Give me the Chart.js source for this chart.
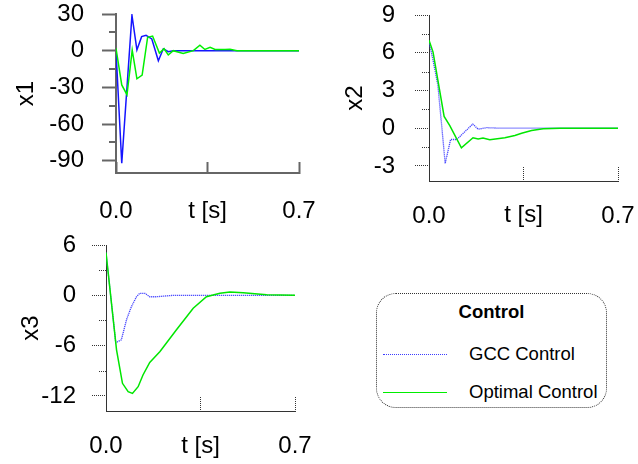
<!DOCTYPE html>
<html>
<head>
<meta charset="utf-8">
<script src="https://cdn.jsdelivr.net/npm/chart.js@4.4.1/dist/chart.umd.min.js"></script>
<style>
body{margin:0;background:#fff;width:638px;height:464px;position:relative;overflow:hidden;font-family:"Liberation Sans",Arial,sans-serif}
canvas{position:absolute}
#c1{left:0;top:0}
#c2{left:320px;top:0}
#c3{left:0;top:230px}
.legend{position:absolute;left:376px;top:293px;width:229px;height:113px;border:1px dotted #333;border-radius:20px;color:#000;font-size:18.5px}
.legend .ttl{position:absolute;top:7px;left:0;width:100%;text-align:center;font-weight:bold;line-height:22px}
.legend .row{position:absolute;left:0;width:100%;height:22px;line-height:22px}
.legend .smp{position:absolute;left:6px;width:64px;top:11px}
.legend .txt{position:absolute;left:92px;top:0;white-space:nowrap}
</style>
</head>
<body>
<canvas id="c1" width="320" height="230"></canvas>
<canvas id="c2" width="318" height="230"></canvas>
<canvas id="c3" width="320" height="234"></canvas>
<div class="legend">
  <div class="ttl">Control</div>
  <div class="row" style="top:49px"><div class="smp" style="border-top:1px dotted #3c3cff"></div><div class="txt">GCC Control</div></div>
  <div class="row" style="top:87px"><div class="smp" style="border-top:1.5px solid #00ee00"></div><div class="txt">Optimal Control</div></div>
</div>
<script>
// shared x axis
const xTickVals = [0, 0.35, 0.7];
const xTickLabels = ['0.0', '', '0.7'];
const seriesNames = ['GCC Control', 'Optimal Control'];

// x1
const x1GccT = [0, 0.022, 0.061, 0.080, 0.098, 0.115, 0.137, 0.162, 0.181, 0.200, 0.219, 0.70];
const x1GccV = [0, -92, 29, 0.6, 11.5, 12.6, 9.6, -8.2, 1.6, -0.8, 0, 0];
const x1OptT = [0, 0.022, 0.042, 0.062, 0.080, 0.100, 0.121, 0.140, 0.166, 0.184, 0.200, 0.219, 0.257, 0.296, 0.321, 0.340, 0.360, 0.379, 0.417, 0.436, 0.463, 0.70];
const x1OptV = [2, -28, -36, 0.5, -23, -20, 11, 12, -2, 1.6, -3.5, 0, -2.2, 0, 4.5, 1, 2.7, 1, 1, 1.1, 0, 0];
const x1Ticks = [-90, -60, -30, 0, 30];
const x1Minor = [-75, -45, -15, 15];

// x2
const x2GccT = [0, 0.015, 0.033, 0.060, 0.080, 0.103, 0.162, 0.182, 0.213, 0.262, 0.70];
const x2GccV = [6.9, 5.4, 3.4, -2.8, -0.9, -0.9, 0.33, -0.08, 0.04, 0, 0];
const x2OptT = [0, 0.015, 0.033, 0.056, 0.077, 0.120, 0.163, 0.182, 0.200, 0.225, 0.281, 0.318, 0.343, 0.380, 0.423, 0.485, 0.70];
const x2OptV = [7.0, 6.05, 3.8, 0.93, 0.2, -1.56, -0.76, -0.85, -0.78, -0.92, -0.76, -0.58, -0.4, -0.18, -0.05, 0, 0];
const x2Ticks = [-3, 0, 3, 6, 9];
const x2Minor = [-1.5, 1.5, 4.5, 7.5];

// x3
const x3GccT = [0, 0.036, 0.057, 0.076, 0.094, 0.113, 0.125, 0.144, 0.162, 0.187, 0.250, 0.70];
const x3GccV = [5.1, -5.65, -5.3, -2.9, -1.36, -0.17, 0.24, 0.24, -0.17, -0.17, 0, 0];
const x3OptT = [0, 0.039, 0.061, 0.082, 0.098, 0.119, 0.137, 0.162, 0.200, 0.261, 0.323, 0.372, 0.422, 0.459, 0.508, 0.595, 0.70];
const x3OptV = [5.1, -6.5, -10.5, -11.5, -11.7, -10.9, -9.5, -8.0, -6.7, -4.1, -1.55, -0.17, 0.24, 0.4, 0.3, 0.07, 0];
const x3Ticks = [-12, -6, 0, 6];
const x3Minor = [-9, -3, 3];

const font = { family: '"Liberation Sans", Arial, sans-serif', size: 24 };

function pts(t, v){ return t.map((x, i) => ({ x: x, y: v[i] })); }

// short unlabeled ticks between the major ones
const minorTicks = {
  id: 'minorTicks',
  afterDraw(chart, args, o){
    const y = chart.scales.y, ctx = chart.ctx;
    ctx.save();
    ctx.strokeStyle = o.color; ctx.lineWidth = o.width; ctx.setLineDash(o.dash || []);
    o.values.forEach(v => {
      const py = Math.round(y.getPixelForValue(v)) + (o.width % 2 ? 0.5 : 0);
      ctx.beginPath(); ctx.moveTo(y.right - o.len, py); ctx.lineTo(y.right, py); ctx.stroke();
    });
    ctx.restore();
  }
};

function makePlot(id, o){
  return new Chart(document.getElementById(id), {
    type: 'line',
    data: { datasets: [
      { label: seriesNames[0], data: pts(o.gccT, o.gccV), borderColor: o.gccColor, borderWidth: o.gccWidth, borderDash: o.gccDash, pointRadius: 0, tension: 0, order: 1 },
      { label: seriesNames[1], data: pts(o.optT, o.optV), borderColor: o.optColor, borderWidth: 1.5, pointRadius: 0, tension: 0, order: 0 }
    ]},
    options: {
      responsive: false, animation: false,
      layout: { padding: { top: o.padTop, right: o.padRight, left: 0, bottom: 0 } },
      plugins: { legend: { display: false }, tooltip: { enabled: false },
        minorTicks: { values: o.minor, len: 7, color: o.axisColor, width: o.axisWidth, dash: o.axisDash } },
      scales: {
        x: { type: 'linear', min: 0, max: 0.7,
          afterBuildTicks: s => { s.ticks = xTickVals.map(v => ({ value: v })); },
          // fixed height, and no extra edge padding from the label gap
          afterFit: s => { s.height = o.xHeight; s.paddingLeft = 0; s.paddingRight = 0; },
          border: { color: o.axisColor, width: o.axisWidth, dash: o.axisDash },
          grid: { drawOnChartArea: false, tickLength: -o.xTickLen, tickColor: o.axisColor, tickWidth: o.axisWidth, tickBorderDash: o.axisDash },
          ticks: { color: '#000', font: font, padding: o.xLabelPad, maxRotation: 0, autoSkip: false,
            callback: (v, i) => xTickLabels[i] },
          title: { display: true, text: 't [s]', color: '#000', font: font, padding: { top: 0, bottom: o.xTitlePad } } },
        y: { min: o.yMin, max: o.yMax,
          afterBuildTicks: s => { s.ticks = o.ticks.map(v => ({ value: v })); },
          afterFit: s => { s.width = o.yWidth; s.paddingTop = 0; s.paddingBottom = 0; },
          border: { color: o.axisColor, width: o.axisWidth, dash: o.axisDash },
          grid: { drawOnChartArea: false, tickLength: 14, tickColor: o.axisColor, tickWidth: o.axisWidth, tickBorderDash: o.axisDash },
          ticks: { color: '#000', font: font, padding: o.yLabelPad, callback: v => String(v) },
          title: { display: true, text: o.yTitle, color: '#000', font: font, padding: { top: o.yTitlePad, bottom: 0 } } }
      }
    },
    plugins: [minorTicks]
  });
}

makePlot('c1', { gccT: x1GccT, gccV: x1GccV, optT: x1OptT, optV: x1OptV, ticks: x1Ticks, minor: x1Minor,
  yTitle: 'x1', yMin: -100, yMax: 30, gccColor: '#1414ff', gccWidth: 1.5, gccDash: [], optColor: '#00f000',
  axisColor: '#666', axisWidth: 2, axisDash: [],
  padTop: 14, padRight: 21, yWidth: 116, yLabelPad: 18, yTitlePad: 11.6,
  xHeight: 57, xTickLen: 11, xLabelPad: 34.6, xTitlePad: 4.6 });

makePlot('c2', { gccT: x2GccT, gccV: x2GccV, optT: x2OptT, optV: x2OptV, ticks: x2Ticks, minor: x2Minor,
  yTitle: 'x2', yMin: -4.2, yMax: 9, gccColor: '#4646ff', gccWidth: 1.3, gccDash: [1.2, 0.8], optColor: '#00e600',
  axisColor: '#333', axisWidth: 1, axisDash: [1, 1],
  padTop: 15, padRight: 20, yWidth: 109, yLabelPad: 20, yTitlePad: 20.6,
  xHeight: 49, xTickLen: 15, xLabelPad: 35.6, xTitlePad: 0 });

makePlot('c3', { gccT: x3GccT, gccV: x3GccV, optT: x3OptT, optV: x3OptV, ticks: x3Ticks, minor: x3Minor,
  yTitle: 'x3', yMin: -13.8, yMax: 6, gccColor: '#4646ff', gccWidth: 1.3, gccDash: [1.2, 0.8], optColor: '#00e600',
  axisColor: '#333', axisWidth: 1, axisDash: [1, 1],
  padTop: 15, padRight: 25, yWidth: 106, yLabelPad: 16, yTitlePad: 16.6,
  xHeight: 53, xTickLen: 15, xLabelPad: 36.1, xTitlePad: 3.1 });
</script>
</body>
</html>
